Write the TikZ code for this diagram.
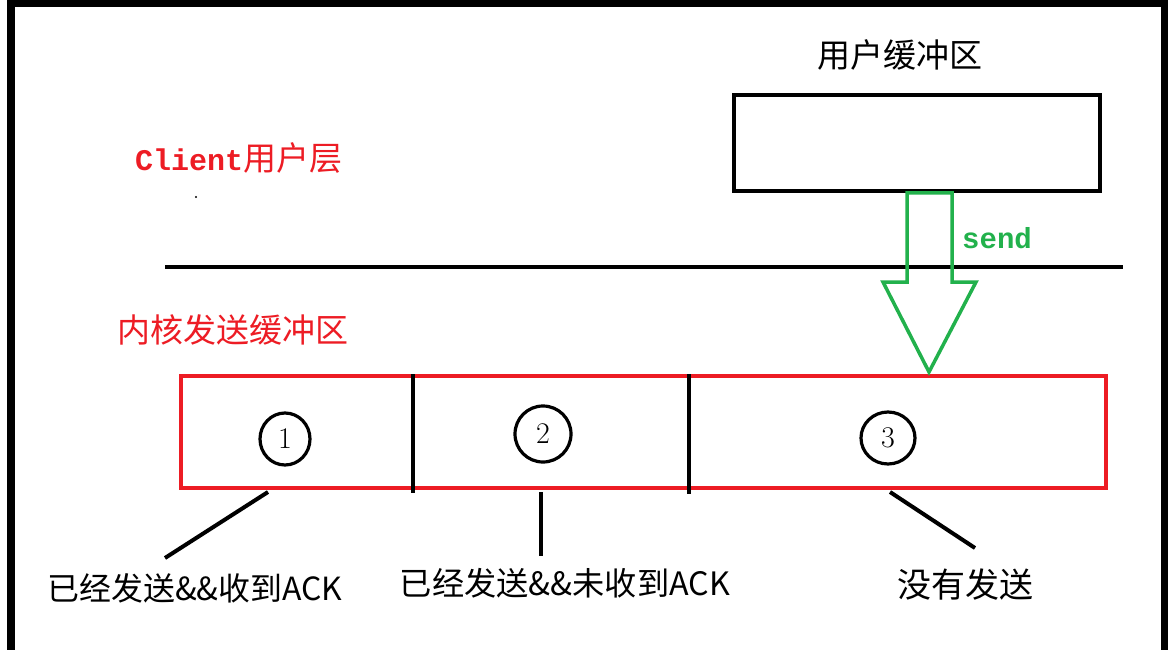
\documentclass[tikz,border=0pt]{standalone}
\usepackage{fontspec}
\newfontfamily\cjk{Noto Sans CJK SC}
\newfontfamily\mono{Liberation Mono}
\usetikzlibrary{calc,shapes.geometric}
\definecolor{pred}{HTML}{ED1C24}
\definecolor{pgreen}{HTML}{22B14C}
\tikzset{
  cjkfont/.style={font=\cjk\fontsize{33}{36}\selectfont, inner sep=0pt},
  redlabel/.style={cjkfont, text=pred},
  blackline/.style={draw=black, line width=4pt},
  numcirc/.style={draw=black, line width=3.2pt, ellipse, inner sep=0pt, font=\fontsize{30}{32}\selectfont},
  pointer/.style={draw=black, line width=4pt},
}
\begin{document}
\begin{tikzpicture}[x=1pt,y=-1pt]
\useasboundingbox (0,0) rectangle (1168,650);
\fill[white] (0,0) rectangle (1168,650);
% outer frame (bottom edge is off the picture)
\begin{scope}
\clip (0,0) rectangle (1168,650);
\draw[line width=8pt] (11,700) -- (11,3) -- (1164.5,3) -- (1164.5,700);
\end{scope}

% user buffer
\node[cjkfont] (utitle) at (900,55) {用户缓冲区};
\node[draw=black, line width=4pt, minimum width=366pt, minimum height=96pt, inner sep=0pt] (ubuf) at (917,143) {};

% labels left
\node[anchor=west, inner sep=0pt, text=pred] (client) at (135,158) {{\mono\bfseries\fontsize{30}{32}\selectfont Client}{\cjk\fontsize{33}{36}\selectfont 用户层}};
\fill[black] (196,197) circle (1.2pt);
\node[redlabel, anchor=west] (kernel) at (117,330) {内核发送缓冲区};

% separator line
\coordinate (sepL) at (165,267);
\coordinate (sepR) at (1123,267);
\draw[blackline] (sepL) -- (sepR);

% kernel buffer
\node[draw=pred, line width=4pt, minimum width=925pt, minimum height=112pt, inner sep=0pt] (kbuf) at (643.5,432) {};
\coordinate (d1t) at (413,374); \coordinate (d1b) at (413,493);
\coordinate (d2t) at (689,374); \coordinate (d2b) at (689,494);
\draw[line width=4pt] (d1t) -- (d1b);
\draw[line width=4pt] (d2t) -- (d2b);

\node[numcirc, minimum width=50pt, minimum height=52pt] (c1) at (285,439) {1};
\node[numcirc, minimum width=56pt, minimum height=56pt] (c2) at (543,434) {2};
\node[numcirc, minimum width=54pt, minimum height=52pt] (c3) at (888,438) {3};

% green send arrow
\draw[pgreen, line width=3.5pt, line join=miter]
  (907,193) -- (952,193) -- (952,282) -- (976,282) -- (929,372) -- (883,282) -- (907,282) -- cycle;
\node[anchor=west, inner sep=0pt, text=pgreen, font=\mono\bfseries\fontsize{29}{31}\selectfont] (send) at (962,238) {send};

% bottom labels
\node[inner sep=0pt] (l1) at (195,588) {\resizebox{295pt}{!}{\cjk\fontsize{30}{32}\selectfont 已经发送\&\&收到ACK}};
\node[inner sep=0pt] (l2) at (565,583) {\resizebox{330pt}{!}{\cjk\fontsize{30}{32}\selectfont 已经发送\&\&未收到ACK}};
\node[inner sep=0pt] (l3) at (965,585) {\resizebox{136pt}{!}{\cjk\fontsize{30}{32}\selectfont 没有发送}};

% pointers
\coordinate (p1a) at (268,492); \coordinate (p1b) at (165,558);
\coordinate (p2a) at (541,492); \coordinate (p2b) at (541,556);
\coordinate (p3a) at (890,492); \coordinate (p3b) at (975,548);
\draw[pointer] (p1a) -- (p1b);
\draw[pointer] (p2a) -- (p2b);
\draw[pointer] (p3a) -- (p3b);
\end{tikzpicture}
\end{document}
